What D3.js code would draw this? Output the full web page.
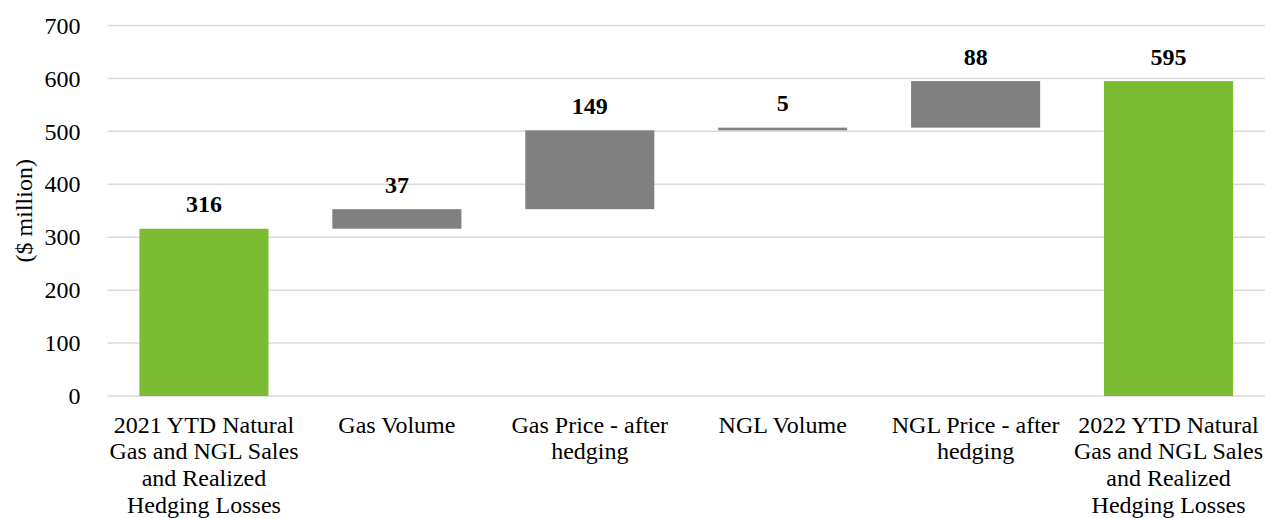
<!DOCTYPE html>
<html>
<head>
<meta charset="utf-8">
<script src="https://cdn.jsdelivr.net/npm/d3@7"></script>
<style>
  html, body { margin: 0; padding: 0; background: #fff; }
  svg { display: block; }
  text { font-family: "Liberation Serif", "Times New Roman", Times, serif; fill: #000; }
</style>
</head>
<body>
<svg id="chart" width="1265" height="518"></svg>
<script>
// Natural gas & NGL sales bridge, 2021 YTD to 2022 YTD ($ million)
const categories = [
  "2021 YTD Natural Gas and NGL Sales and Realized Hedging Losses",
  "Gas Volume",
  "Gas Price - after hedging",
  "NGL Volume",
  "NGL Price - after hedging",
  "2022 YTD Natural Gas and NGL Sales and Realized Hedging Losses"
];
// "total" bars start at zero; "delta" bars float on the running total
const barKinds = ["total", "delta", "delta", "delta", "delta", "total"];
const values = [316, 37, 149, 5, 88, 595];
const yTicks = [0, 100, 200, 300, 400, 500, 600, 700];

const W = 1265, H = 518;
const margin = { left: 107.5, right: 0, top: 25.5, bottom: 122 };
const svg = d3.select("#chart");

const x = d3.scaleBand()
  .domain(categories)
  .range([margin.left, W - margin.right])
  .paddingInner(0.331)
  .paddingOuter(0.1655);

const y = d3.scaleLinear()
  .domain([0, 700])
  .range([H - margin.bottom, margin.top]);

// running-total segments
let running = 0;
const bars = categories.map((c, i) => {
  let lo, hi;
  if (barKinds[i] === "total") { lo = 0; hi = values[i]; running = values[i]; }
  else { lo = running; hi = running + values[i]; running = hi; }
  return { cat: c, kind: barKinds[i], value: values[i], lo, hi };
});

// gridlines
svg.append("g")
  .selectAll("line")
  .data(yTicks)
  .join("line")
  .attr("x1", margin.left)
  .attr("x2", W)
  .attr("y1", d => y(d))
  .attr("y2", d => y(d))
  .attr("stroke", "#d9d9d9")
  .attr("stroke-width", 1.5);

// y axis labels
const yAxis = svg.append("g")
  .attr("transform", `translate(${margin.left},0)`)
  .call(d3.axisLeft(y).tickValues(yTicks).tickSize(0).tickPadding(27));
yAxis.select(".domain").remove();
yAxis.selectAll("text")
  .attr("font-size", 24)
  .attr("font-family", "Liberation Serif, Times New Roman, serif")
  .attr("fill", "#000");

// axis title
svg.append("text")
  .attr("transform", `translate(32,${y(350)}) rotate(-90)`)
  .attr("text-anchor", "middle")
  .attr("font-size", 24)
  .text("($ million)");

// bars
svg.append("g")
  .selectAll("rect")
  .data(bars)
  .join("rect")
  .attr("x", d => x(d.cat))
  .attr("width", x.bandwidth())
  .attr("y", d => y(d.hi))
  .attr("height", d => y(d.lo) - y(d.hi))
  .attr("fill", d => d.kind === "total" ? "#7cbc32" : "#808080");

// value labels
svg.append("g")
  .selectAll("text")
  .data(bars)
  .join("text")
  .attr("x", d => x(d.cat) + x.bandwidth() / 2)
  .attr("y", d => y(d.hi) - 16.5)
  .attr("text-anchor", "middle")
  .attr("font-size", 24)
  .attr("font-weight", "bold")
  .text(d => d.value);

// category labels, wrapped to the band step
const catG = svg.append("g");
const maxW = x.step();
categories.forEach(c => {
  const t = catG.append("text")
    .attr("x", x(c) + x.bandwidth() / 2)
    .attr("y", y(0) + 36.7)
    .attr("text-anchor", "middle")
    .attr("font-size", 24);
  const words = c.split(" ");
  let line = [];
  let lineNo = 0;
  let ts = t.append("tspan").attr("x", x(c) + x.bandwidth() / 2).attr("dy", 0);
  words.forEach(w => {
    line.push(w);
    ts.text(line.join(" "));
    if (ts.node().getComputedTextLength() > maxW && line.length > 1) {
      line.pop();
      ts.text(line.join(" "));
      line = [w];
      lineNo++;
      ts = t.append("tspan")
        .attr("x", x(c) + x.bandwidth() / 2)
        .attr("dy", 26.7)
        .text(w);
    }
  });
});
</script>
</body>
</html>
